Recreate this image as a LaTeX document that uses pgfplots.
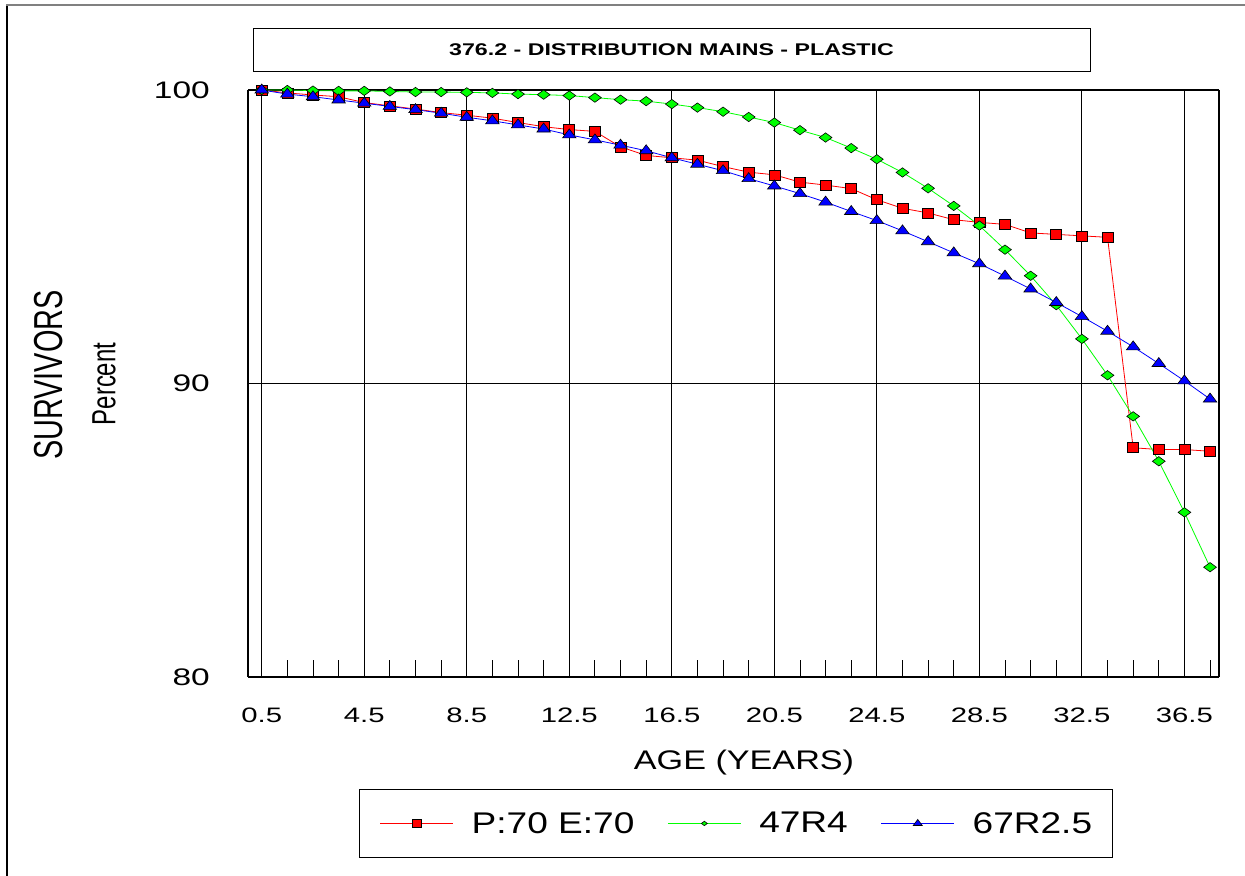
\documentclass[border=0pt]{standalone}
\usepackage{pgfplots}
\pgfplotsset{compat=1.18}
\usepackage{fontspec}
\setmainfont{Liberation Sans}
\definecolor{cred}{RGB}{255,0,0}
\definecolor{cgreen}{RGB}{0,255,0}
\definecolor{cblue}{RGB}{0,0,255}
\newcommand\hs[1]{\scalebox{1.4}[1]{#1}}
\newcommand\ls[1]{\scalebox{1.24}[1]{#1}}
\begin{document}
\begin{tikzpicture}[x=1bp,y=1bp]
\useasboundingbox (0,0) rectangle (1245,876);
% outer frame
\draw[black,line width=1.5bp] (7,871) -- (7,0);
\draw[gray,line width=1.5bp] (6.25,871) -- (1245,871);
% title box
\node[draw=black,line width=0.8bp,minimum width=837bp,minimum height=43bp,inner sep=0pt,font=\fontsize{17}{20}\selectfont\bfseries] at (671.5,826.5) {\scalebox{1.37}[1]{376.2 - DISTRIBUTION MAINS - PLASTIC}};
% y labels
\node[rotate=90,inner sep=0pt,font=\fontsize{29}{33}\selectfont] at (49,501) {\scalebox{1}[1.4]{SURVIVORS}};
\node[rotate=90,inner sep=0pt,font=\fontsize{24}{28}\selectfont] at (104,492) {\scalebox{1}[1.4]{Percent}};
% x label
\node[inner sep=0pt,font=\fontsize{27}{32}\selectfont] at (744,113) {\scalebox{1.27}[1]{AGE (YEARS)}};
\begin{axis}[
  at={(248bp,199bp)}, anchor=south west,
  width=971bp, height=587bp, scale only axis,
  xmin=-0.035, xmax=37.85, ymin=80, ymax=100,
  xtick={0.5,4.5,8.5,12.5,16.5,20.5,24.5,28.5,32.5,36.5},
  xticklabels={\hs{0.5},\hs{4.5},\hs{8.5},\hs{12.5},\hs{16.5},\hs{20.5},\hs{24.5},\hs{28.5},\hs{32.5},\hs{36.5}},
  minor xtick={0.5,1.5,...,37.5},
  ytick={80,90,100},
  yticklabels={\hs{80},\hs{90},\hs{100}},
  xmajorgrids, ymajorgrids,
  major grid style={black,line width=1.1bp},
  tick align=inside, xtick pos=bottom, ytick pos=left,
  major tick length=0pt, minor tick length=17bp,
  minor tick style={black,line width=0.9bp},
  major tick style={draw=none},
  axis line style={black,line width=1.1bp},
  separate axis lines,
  x axis line style={line width=1.8bp},
  y axis line style={line width=1.8bp},
  xticklabel style={font=\fontsize{21}{24}\selectfont, inner sep=0pt, anchor=north, yshift=-31bp},
  yticklabel style={font=\fontsize{24}{28}\selectfont, inner sep=0pt, anchor=east, xshift=-38bp},
  clip=false,
  legend columns=3,
  legend style={at={(0.5026,-0.2495)}, anchor=center, draw=black, line width=0.9bp,
    font=\fontsize{30}{34}\selectfont, inner xsep=20bp, inner ysep=23bp,
    nodes={inner sep=0pt},
    /tikz/every odd column/.append style={column sep=18bp},
    /tikz/every even column/.append style={column sep=33bp}},
  legend image code/.code={\draw[line width=0.8bp,mark size=4bp,mark repeat=2,mark phase=2] plot coordinates {(0bp,0bp) (36.5bp,0bp) (73bp,0bp)};},
]
\addplot[cred, line width=0.8bp, mark=square*, mark size=5bp, mark options={draw=black,fill=cred,line width=0.6bp,xscale=1.1}] coordinates {
(0.5,100) (1.5,99.9) (2.5,99.83) (3.5,99.77) (4.5,99.57) (5.5,99.46) (6.5,99.35) (7.5,99.23) (8.5,99.14) (9.5,99.04)
(10.5,98.89) (11.5,98.75) (12.5,98.65) (13.5,98.59) (14.5,98.06) (15.5,97.77) (16.5,97.69) (17.5,97.61) (18.5,97.39) (19.5,97.20)
(20.5,97.11) (21.5,96.86) (22.5,96.76) (23.5,96.64) (24.5,96.26) (25.5,95.97) (26.5,95.81) (27.5,95.58) (28.5,95.49) (29.5,95.42)
(30.5,95.13) (31.5,95.08) (32.5,95.03) (33.5,94.98) (34.5,87.81) (35.5,87.75) (36.5,87.75) (37.5,87.69)};
\addlegendentry{\ls{P:70 E:70}}
\addplot[cgreen, line width=0.8bp, mark=diamond*, mark size=8.5bp, mark options={draw=black,fill=cgreen,line width=0.6bp,yscale=0.55}] coordinates {
(0.5,100) (1.5,100) (2.5,99.98) (3.5,99.97) (4.5,99.97) (5.5,99.95) (6.5,99.93) (7.5,99.93) (8.5,99.92) (9.5,99.90)
(10.5,99.86) (11.5,99.84) (12.5,99.81) (13.5,99.74) (14.5,99.67) (15.5,99.62) (16.5,99.52) (17.5,99.40) (18.5,99.26) (19.5,99.08)
(20.5,98.89) (21.5,98.63) (22.5,98.38) (23.5,98.02) (24.5,97.64) (25.5,97.19) (26.5,96.65) (27.5,96.05) (28.5,95.38) (29.5,94.56)
(30.5,93.67) (31.5,92.67) (32.5,91.52) (33.5,90.28) (34.5,88.88) (35.5,87.35) (36.5,85.61) (37.5,83.74)};
\addlegendentry{\ls{47R4}}
\addplot[cblue, line width=0.8bp, mark=triangle*, mark size=6bp, mark options={draw=black,fill=cblue,line width=0.6bp,xscale=1.3}] coordinates {
(0.5,100) (1.5,99.86) (2.5,99.77) (3.5,99.66) (4.5,99.55) (5.5,99.44) (6.5,99.33) (7.5,99.21) (8.5,99.07) (9.5,98.95)
(10.5,98.81) (11.5,98.67) (12.5,98.47) (13.5,98.30) (14.5,98.12) (15.5,97.93) (16.5,97.69) (17.5,97.47) (18.5,97.25) (19.5,96.98)
(20.5,96.73) (21.5,96.47) (22.5,96.18) (23.5,95.86) (24.5,95.55) (25.5,95.20) (26.5,94.83) (27.5,94.45) (28.5,94.08) (29.5,93.66)
(30.5,93.22) (31.5,92.76) (32.5,92.28) (33.5,91.78) (34.5,91.25) (35.5,90.68) (36.5,90.09) (37.5,89.47)};
\addlegendentry{\ls{67R2.5}}
\end{axis}
\end{tikzpicture}
\end{document}
